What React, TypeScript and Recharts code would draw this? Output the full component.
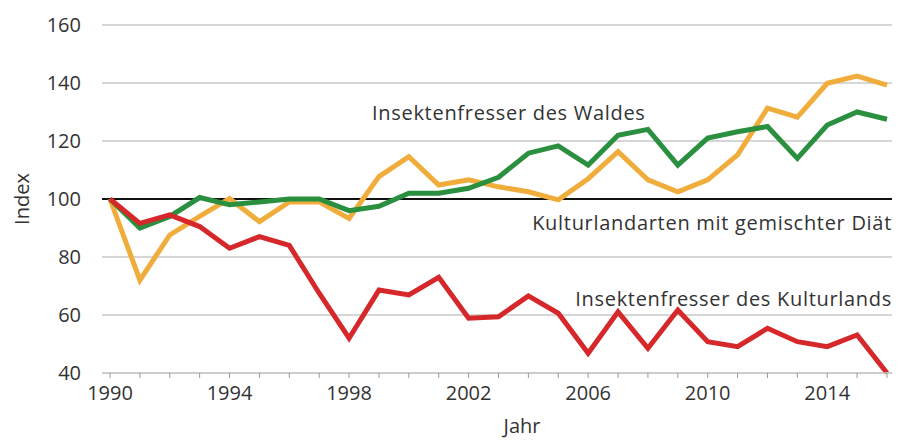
import { LineChart, Line, XAxis, YAxis, CartesianGrid, ReferenceLine, Label } from 'recharts';

const years = [
  1990, 1991, 1992, 1993, 1994, 1995, 1996, 1997, 1998, 1999, 2000, 2001, 2002,
  2003, 2004, 2005, 2006, 2007, 2008, 2009, 2010, 2011, 2012, 2013, 2014, 2015, 2016,
];

// Insektenfresser des Waldes
const wald = [
  100, 90, 94, 100.5, 98, 99, 100, 100, 96, 97.5, 102, 102, 103.7,
  107.5, 115.8, 118.3, 111.7, 122, 124, 111.7, 121, 123.2, 125, 114, 125.5, 130, 127.5,
];

// Kulturlandarten mit gemischter Diät
const gemischt = [
  100, 72, 87.6, 94, 100.2, 92.2, 99, 99, 93.3, 107.7, 114.6, 104.8, 106.6,
  104.2, 102.5, 99.7, 107, 116.3, 106.6, 102.5, 106.6, 115.2, 131.3, 128.2, 139.9, 142.4, 139.3,
];

// Insektenfresser des Kulturlands
const kulturland = [
  100, 91.6, 94.5, 90.5, 83, 87, 84, 67.5, 52, 68.6, 66.9, 73, 58.9,
  59.4, 66.6, 60.6, 46.8, 61.1, 48.5, 61.7, 50.8, 49.1, 55.4, 50.8, 49.1, 53.1, 40,
];

const yTicks = [40, 60, 80, 100, 120, 140, 160];

const data = years.map((year, i) => ({
  year,
  wald: wald[i],
  gemischt: gemischt[i],
  kulturland: kulturland[i],
}));

const FONT = '"Open Sans", sans-serif';
const TEXT = '#333333';
const FS = 20;

const labelStyle: React.CSSProperties = {
  position: 'absolute',
  fontFamily: FONT,
  fontSize: FS,
  letterSpacing: 0.7,
  color: TEXT,
  whiteSpace: 'nowrap',
  lineHeight: 1,
};

export default function App() {
  return (
    <div style={{ position: 'absolute', left: 0, top: 0, width: 904, height: 441, background: '#fff' }}>
      <LineChart
        width={904}
        height={441}
        data={data}
        margin={{ top: 25, right: 12, left: 42, bottom: 38 }}
      >
        <CartesianGrid vertical={false} stroke="#c8c8c8" strokeWidth={1.5} />
        <XAxis
          dataKey="year"
          type="number"
          domain={[1990, 2016]}
          ticks={years}
          interval={0}
          padding={{ left: 8, right: 5 }}
          tickFormatter={(v: number) => ((v - 1990) % 4 === 0 ? String(v) : '')}
          tick={{ fill: TEXT, fontSize: FS, fontFamily: FONT }}
          tickLine={{ stroke: '#999' }}
          axisLine={{ stroke: '#c8c8c8', strokeWidth: 1.5 }}
          tickSize={5}
          tickMargin={8}
          height={30}
        >
          <Label
            value="Jahr"
            position="insideBottom"
            offset={-30}
            dx={25}
            style={{ fill: TEXT, fontSize: FS, fontFamily: FONT }}
          />
        </XAxis>
        <YAxis
          domain={[40, 160]}
          ticks={yTicks}
          interval={0}
          tick={{ fill: TEXT, fontSize: FS, fontFamily: FONT }}
          tickLine={false}
          axisLine={false}
          tickSize={0}
          tickMargin={21}
          width={60}
        >
          <Label
            value="Index"
            angle={-90}
            position="insideLeft"
            offset={-20}
            style={{ fill: TEXT, fontSize: FS, fontFamily: FONT, textAnchor: 'middle' }}
          />
        </YAxis>
        <ReferenceLine y={100} stroke="#111" strokeWidth={2} />
        <Line dataKey="gemischt" stroke="#f1ad3b" strokeWidth={5} dot={false} isAnimationActive={false} />
        <Line dataKey="wald" stroke="#2a8f3f" strokeWidth={5} dot={false} isAnimationActive={false} />
        <Line dataKey="kulturland" stroke="#d6282b" strokeWidth={5} dot={false} isAnimationActive={false} />
      </LineChart>
      <div style={{ ...labelStyle, left: 372, top: 103 }}>Insektenfresser des Waldes</div>
      <div style={{ ...labelStyle, right: 12, top: 213 }}>Kulturlandarten mit gemischter Diät</div>
      <div style={{ ...labelStyle, right: 12, top: 289 }}>Insektenfresser des Kulturlands</div>
    </div>
  );
}
